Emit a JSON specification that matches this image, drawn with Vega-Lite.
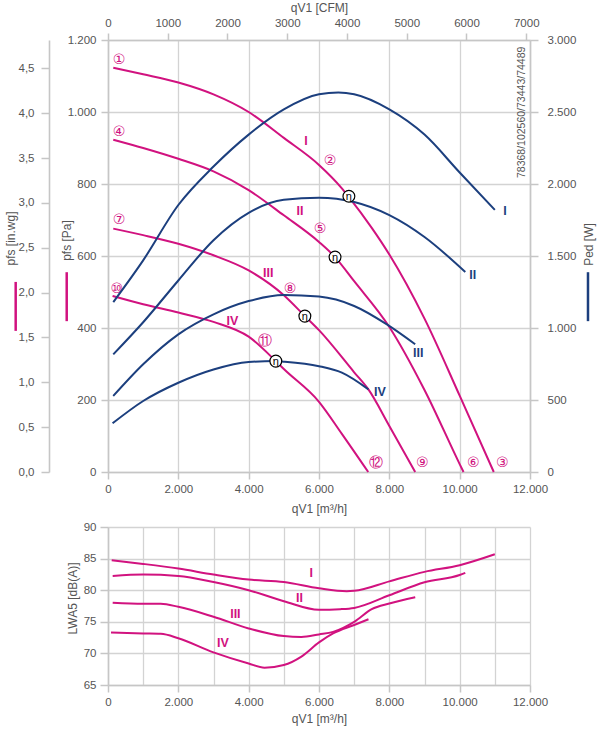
{
  "$schema": "https://vega.github.io/schema/vega-lite/v6.json",
  "background": "white",
  "padding": {"left": 4, "top": 1, "right": 5, "bottom": 5},
  "spacing": 7,
  "config": {
    "view": {"stroke": null},
    "font": "Liberation Sans",
    "text": {"font": "Liberation Sans"},
    "axis": {
      "labelFont": "Liberation Sans", "labelFontSize": 11.5, "labelColor": "#555555",
      "titleFont": "Liberation Sans", "titleFontSize": 12, "titleFontWeight": "normal", "titleColor": "#555555",
      "gridColor": "#d3d3d3", "gridWidth": 1.3,
      "domainColor": "#c6c6c6", "domainWidth": 1.6,
      "tickColor": "#c6c6c6", "tickWidth": 1.5
    }
  },
  "datasets": {
    "pressure": [
      {"c": "I", "x": 150, "p": 1123}, {"c": "I", "x": 1000, "p": 1105}, {"c": "I", "x": 2000, "p": 1082}, {"c": "I", "x": 3000, "p": 1049}, {"c": "I", "x": 4000, "p": 1000}, {"c": "I", "x": 5000, "p": 928}, {"c": "I", "x": 6000, "p": 853}, {"c": "I", "x": 6650, "p": 788}, {"c": "I", "x": 6840, "p": 765}, {"c": "I", "x": 7500, "p": 678}, {"c": "I", "x": 8000, "p": 604}, {"c": "I", "x": 9000, "p": 426}, {"c": "I", "x": 10000, "p": 212}, {"c": "I", "x": 10970, "p": 0},
      {"c": "II", "x": 150, "p": 923}, {"c": "II", "x": 1000, "p": 900}, {"c": "II", "x": 2000, "p": 870}, {"c": "II", "x": 3000, "p": 835}, {"c": "II", "x": 4000, "p": 783}, {"c": "II", "x": 5000, "p": 713}, {"c": "II", "x": 6000, "p": 639}, {"c": "II", "x": 6456, "p": 597}, {"c": "II", "x": 7000, "p": 530}, {"c": "II", "x": 8000, "p": 403}, {"c": "II", "x": 9000, "p": 228}, {"c": "II", "x": 10000, "p": 22}, {"c": "II", "x": 10110, "p": 0},
      {"c": "III", "x": 150, "p": 676}, {"c": "III", "x": 1000, "p": 658}, {"c": "III", "x": 2000, "p": 634}, {"c": "III", "x": 3000, "p": 602}, {"c": "III", "x": 4000, "p": 560}, {"c": "III", "x": 5000, "p": 491}, {"c": "III", "x": 5600, "p": 433}, {"c": "III", "x": 6000, "p": 394}, {"c": "III", "x": 7000, "p": 277}, {"c": "III", "x": 7400, "p": 230}, {"c": "III", "x": 8000, "p": 128}, {"c": "III", "x": 8735, "p": 0},
      {"c": "IV", "x": 130, "p": 489}, {"c": "IV", "x": 1000, "p": 466}, {"c": "IV", "x": 2000, "p": 443}, {"c": "IV", "x": 3000, "p": 417}, {"c": "IV", "x": 4000, "p": 376}, {"c": "IV", "x": 4772, "p": 308}, {"c": "IV", "x": 5000, "p": 286}, {"c": "IV", "x": 6000, "p": 195}, {"c": "IV", "x": 6650, "p": 106}, {"c": "IV", "x": 7400, "p": 0}
    ],
    "power": [
      {"c": "I", "x": 150, "w": 1180}, {"c": "I", "x": 1000, "w": 1470}, {"c": "I", "x": 2000, "w": 1854}, {"c": "I", "x": 3000, "w": 2121}, {"c": "I", "x": 4000, "w": 2343}, {"c": "I", "x": 5000, "w": 2518}, {"c": "I", "x": 6000, "w": 2623}, {"c": "I", "x": 6550, "w": 2635}, {"c": "I", "x": 7000, "w": 2623}, {"c": "I", "x": 8000, "w": 2518}, {"c": "I", "x": 9000, "w": 2343}, {"c": "I", "x": 10000, "w": 2080}, {"c": "I", "x": 11000, "w": 1820},
      {"c": "II", "x": 150, "w": 817}, {"c": "II", "x": 1000, "w": 1040}, {"c": "II", "x": 2000, "w": 1330}, {"c": "II", "x": 3000, "w": 1610}, {"c": "II", "x": 4000, "w": 1800}, {"c": "II", "x": 5000, "w": 1890}, {"c": "II", "x": 6000, "w": 1905}, {"c": "II", "x": 7000, "w": 1875}, {"c": "II", "x": 8000, "w": 1784}, {"c": "II", "x": 9000, "w": 1632}, {"c": "II", "x": 10160, "w": 1389},
      {"c": "III", "x": 150, "w": 528}, {"c": "III", "x": 1000, "w": 748}, {"c": "III", "x": 2000, "w": 956}, {"c": "III", "x": 3000, "w": 1095}, {"c": "III", "x": 4000, "w": 1187}, {"c": "III", "x": 5000, "w": 1229}, {"c": "III", "x": 6000, "w": 1218}, {"c": "III", "x": 7000, "w": 1153}, {"c": "III", "x": 7930, "w": 1025}, {"c": "III", "x": 8735, "w": 887},
      {"c": "IV", "x": 130, "w": 338}, {"c": "IV", "x": 1000, "w": 493}, {"c": "IV", "x": 2000, "w": 620}, {"c": "IV", "x": 3000, "w": 712}, {"c": "IV", "x": 4000, "w": 764}, {"c": "IV", "x": 4770, "w": 770}, {"c": "IV", "x": 5000, "w": 766}, {"c": "IV", "x": 6000, "w": 735}, {"c": "IV", "x": 6650, "w": 690}, {"c": "IV", "x": 7405, "w": 574}
    ],
    "noise": [
      {"c": "I", "x": 105, "db": 84.74}, {"c": "I", "x": 1000, "db": 84.16}, {"c": "I", "x": 2000, "db": 83.42}, {"c": "I", "x": 3000, "db": 82.47}, {"c": "I", "x": 4000, "db": 81.68}, {"c": "I", "x": 5000, "db": 81.3}, {"c": "I", "x": 6000, "db": 80.3}, {"c": "I", "x": 6790, "db": 79.84}, {"c": "I", "x": 7000, "db": 79.9}, {"c": "I", "x": 8000, "db": 81.4}, {"c": "I", "x": 9000, "db": 82.9}, {"c": "I", "x": 10000, "db": 83.95}, {"c": "I", "x": 11000, "db": 85.68},
      {"c": "II", "x": 133, "db": 82.26}, {"c": "II", "x": 1000, "db": 82.47}, {"c": "II", "x": 2000, "db": 82.26}, {"c": "II", "x": 3000, "db": 81.3}, {"c": "II", "x": 4000, "db": 80.0}, {"c": "II", "x": 5000, "db": 78.26}, {"c": "II", "x": 6000, "db": 76.9}, {"c": "II", "x": 6600, "db": 77.0}, {"c": "II", "x": 7000, "db": 77.2}, {"c": "II", "x": 8000, "db": 79.2}, {"c": "II", "x": 9000, "db": 81.25}, {"c": "II", "x": 10000, "db": 82.4}, {"c": "II", "x": 10160, "db": 82.74},
      {"c": "III", "x": 133, "db": 78.0}, {"c": "III", "x": 1000, "db": 77.84}, {"c": "III", "x": 1500, "db": 77.84}, {"c": "III", "x": 2000, "db": 77.37}, {"c": "III", "x": 3000, "db": 75.8}, {"c": "III", "x": 4000, "db": 73.95}, {"c": "III", "x": 5000, "db": 72.74}, {"c": "III", "x": 5500, "db": 72.6}, {"c": "III", "x": 6000, "db": 73.0}, {"c": "III", "x": 6400, "db": 73.4}, {"c": "III", "x": 7000, "db": 75.0}, {"c": "III", "x": 7500, "db": 77.0}, {"c": "III", "x": 8000, "db": 77.9}, {"c": "III", "x": 8737, "db": 78.9},
      {"c": "IV", "x": 86, "db": 73.3}, {"c": "IV", "x": 1000, "db": 73.16}, {"c": "IV", "x": 1500, "db": 73.1}, {"c": "IV", "x": 2000, "db": 72.4}, {"c": "IV", "x": 3000, "db": 70.16}, {"c": "IV", "x": 4000, "db": 68.4}, {"c": "IV", "x": 4450, "db": 67.74}, {"c": "IV", "x": 5000, "db": 68.16}, {"c": "IV", "x": 5500, "db": 69.5}, {"c": "IV", "x": 6000, "db": 71.74}, {"c": "IV", "x": 6400, "db": 73.16}, {"c": "IV", "x": 7000, "db": 74.5}, {"c": "IV", "x": 7407, "db": 75.4}
    ],
    "plabels": [
      {"t": "①", "x": 313, "p": 1144}, {"t": "②", "x": 6313, "p": 865}, {"t": "③", "x": 11213, "p": 26},
      {"t": "④", "x": 313, "p": 944}, {"t": "⑤", "x": 6029, "p": 675}, {"t": "⑥", "x": 10390, "p": 26},
      {"t": "⑦", "x": 313, "p": 700}, {"t": "⑧", "x": 5175, "p": 508}, {"t": "⑨", "x": 8938, "p": 26},
      {"t": "⑩", "x": 247, "p": 509}, {"t": "⑪", "x": 4465, "p": 364}, {"t": "⑫", "x": 7621, "p": 26}
    ],
    "proman": [
      {"t": "I", "x": 5630, "p": 920}, {"t": "II", "x": 5460, "p": 726}, {"t": "III", "x": 4559, "p": 554}, {"t": "IV", "x": 3536, "p": 419}
    ],
    "wlabels": [
      {"t": "I", "x": 11289, "w": 1815}, {"t": "II", "x": 10370, "w": 1366}, {"t": "III", "x": 8824, "w": 824}, {"t": "IV", "x": 7735, "w": 556}
    ],
    "eta": [
      {"x": 6850, "p": 766}, {"x": 6456, "p": 597}, {"x": 5598, "p": 433}, {"x": 4772, "p": 308}
    ],
    "nlabels": [
      {"c": "I", "t": "I", "x": 5779, "db": 82.8}, {"c": "II", "t": "II", "x": 5447, "db": 78.7}, {"c": "III", "t": "III", "x": 3622, "db": 76.2}, {"c": "IV", "t": "IV", "x": 3270, "db": 71.6}
    ],
    "idtext": [
      {"t": "78368/102560/73443/74489", "x": 11772, "p": 999}
    ],
    "inwg": [{"v": 0}, {"v": 4.8176}],
    "cfm": [{"v": 0}, {"v": 7062.9}]
  },
  "vconcat": [
    {
      "width": 422,
      "height": 432,
      "layer": [
        {
          "layer": [
            {
              "data": {"name": "pressure"},
              "mark": {"type": "line", "color": "#d1127f", "strokeWidth": 2, "interpolate": "monotone"},
              "encoding": {
                "x": {"field": "x", "type": "quantitative", "scale": {"domain": [0, 12000], "nice": false},
                  "axis": {"orient": "bottom", "values": [0, 1000, 2000, 3000, 4000, 5000, 6000, 7000, 8000, 9000, 10000, 11000, 12000],
                    "labelExpr": "datum.value % 2000 === 0 ? replace(format(datum.value, ','), ',', '.') : ''",
                    "tickOpacity": {"condition": {"test": "datum.value % 2000 === 0", "value": 1}, "value": 0},
                    "grid": true, "tickSize": 7, "labelPadding": 4, "labelFlush": false, "labelOverlap": false,
                    "title": "qV1 [m³/h]", "titleY": 36, "titleBaseline": "middle"}},
                "y": {"field": "p", "type": "quantitative", "scale": {"domain": [0, 1200], "nice": false},
                  "axis": {"orient": "left", "values": [0, 100, 200, 300, 400, 500, 600, 700, 800, 900, 1000, 1100, 1200],
                    "labelExpr": "datum.value % 200 === 0 ? replace(format(datum.value, ','), ',', '.') : ''",
                    "tickOpacity": {"condition": {"test": "datum.value % 200 === 0", "value": 1}, "value": 0},
                    "grid": true, "tickSize": 7, "labelPadding": 5, "labelFlush": false, "labelOverlap": false,
                    "title": "pfs [Pa]", "titleAngle": 270, "titleX": -42, "titleY": 200, "titleBaseline": "middle", "titleAlign": "center"}},
                "detail": {"field": "c"}
              }
            },
            {
              "data": {"name": "plabels"},
              "mark": {"type": "text", "color": "#d1127f", "fontSize": 14, "font": "DejaVu Sans", "baseline": "middle", "align": "center"},
              "encoding": {"x": {"field": "x", "type": "quantitative"}, "y": {"field": "p", "type": "quantitative"}, "text": {"field": "t"}}
            },
            {
              "data": {"name": "proman"},
              "mark": {"type": "text", "color": "#d1127f", "fontSize": 12.5, "fontWeight": "bold", "baseline": "middle", "align": "center"},
              "encoding": {"x": {"field": "x", "type": "quantitative"}, "y": {"field": "p", "type": "quantitative"}, "text": {"field": "t"}}
            },
            {
              "data": {"name": "idtext"},
              "mark": {"type": "text", "color": "#555555", "fontSize": 10.5, "angle": 270, "baseline": "middle", "align": "center"},
              "encoding": {"x": {"field": "x", "type": "quantitative"}, "y": {"field": "p", "type": "quantitative"}, "text": {"field": "t"}}
            },
            {
              "data": {"values": [{}]},
              "mark": {"type": "rule", "color": "#d1127f", "strokeWidth": 2.5},
              "encoding": {"x": {"datum": -1174, "type": "quantitative"}, "y": {"datum": 419, "type": "quantitative"}, "y2": {"datum": 555}}
            },
            {
              "data": {"values": [{}]},
              "mark": {"type": "rule", "color": "#d1127f", "strokeWidth": 2.5},
              "encoding": {"x": {"datum": -2625, "type": "quantitative"}, "y": {"datum": 392, "type": "quantitative"}, "y2": {"datum": 528}}
            },
            {
              "data": {"values": [{}]},
              "mark": {"type": "rule", "color": "#1c3f7e", "strokeWidth": 2.5},
              "encoding": {"x": {"datum": 13649, "type": "quantitative"}, "y": {"datum": 419, "type": "quantitative"}, "y2": {"datum": 555}}
            }
          ]
        },
        {
          "layer": [
            {
              "data": {"name": "power"},
              "mark": {"type": "line", "color": "#1c3f7e", "strokeWidth": 2, "interpolate": "monotone"},
              "encoding": {
                "x": {"field": "x", "type": "quantitative", "scale": {"domain": [0, 12000], "nice": false}, "axis": null},
                "y": {"field": "w", "type": "quantitative", "scale": {"domain": [0, 3000], "nice": false},
                  "axis": {"orient": "right", "values": [0, 500, 1000, 1500, 2000, 2500, 3000],
                    "labelExpr": "replace(format(datum.value, ','), ',', '.')",
                    "grid": false, "tickSize": 8, "labelPadding": 9, "labelFlush": false, "labelOverlap": false,
                    "title": "Ped [W]", "titleAngle": 270, "titleX": 58, "titleY": 204, "titleBaseline": "middle", "titleAlign": "center"}},
                "detail": {"field": "c"}
              }
            },
            {
              "data": {"name": "wlabels"},
              "mark": {"type": "text", "color": "#1c3f7e", "fontSize": 12.5, "fontWeight": "bold", "baseline": "middle", "align": "center"},
              "encoding": {"x": {"field": "x", "type": "quantitative"}, "y": {"field": "w", "type": "quantitative"}, "text": {"field": "t"}}
            }
          ]
        },
        {
          "layer": [
            {
              "data": {"name": "eta"},
              "mark": {"type": "point", "shape": "circle", "filled": true, "fill": "white", "stroke": "black", "strokeWidth": 1.2, "size": 140, "opacity": 1},
              "encoding": {
                "x": {"field": "x", "type": "quantitative", "scale": {"domain": [0, 12000], "nice": false}, "axis": null},
                "y": {"field": "p", "type": "quantitative", "scale": {"domain": [0, 1200], "nice": false}, "axis": null}
              }
            },
            {
              "data": {"name": "eta"},
              "mark": {"type": "text", "text": "η", "fontSize": 11, "color": "black", "baseline": "middle", "align": "center", "dy": 1},
              "encoding": {"x": {"field": "x", "type": "quantitative"}, "y": {"field": "p", "type": "quantitative"}}
            }
          ]
        },
        {
          "data": {"name": "inwg"},
          "mark": {"type": "point", "opacity": 0},
          "encoding": {
            "y": {"field": "v", "type": "quantitative", "scale": {"domain": [0, 4.8176], "nice": false},
              "axis": {"orient": "left", "offset": 59, "values": [0, 0.5, 1, 1.5, 2, 2.5, 3, 3.5, 4, 4.5],
                "labelExpr": "replace(format(datum.value, '.1f'), '.', ',')",
                "grid": false, "tickSize": 8, "labelPadding": 7, "labelFlush": false, "labelOverlap": false,
                "title": "pfs [in.wg]", "titleAngle": 270, "titleX": -39, "titleY": 198, "titleBaseline": "middle", "titleAlign": "center"}}
          }
        },
        {
          "data": {"name": "cfm"},
          "mark": {"type": "point", "opacity": 0},
          "encoding": {
            "x": {"field": "v", "type": "quantitative", "scale": {"domain": [0, 7062.9], "nice": false},
              "axis": {"orient": "top", "values": [0, 1000, 2000, 3000, 4000, 5000, 6000, 7000], "format": "d",
                "grid": false, "tickSize": 7, "labelPadding": 5, "labelFlush": false, "labelOverlap": false,
                "title": "qV1 [CFM]", "titleY": -33, "titleBaseline": "middle"}}
          }
        }
      ],
      "resolve": {"scale": {"x": "independent", "y": "independent"}}
    },
    {
      "width": 422,
      "height": 158,
      "encoding": {
        "x": {"field": "x", "type": "quantitative", "scale": {"domain": [0, 12000], "nice": false},
          "axis": {"orient": "bottom", "values": [0, 1000, 2000, 3000, 4000, 5000, 6000, 7000, 8000, 9000, 10000, 11000, 12000],
            "labelExpr": "datum.value % 2000 === 0 ? replace(format(datum.value, ','), ',', '.') : ''",
            "tickOpacity": {"condition": {"test": "datum.value % 2000 === 0", "value": 1}, "value": 0},
            "grid": true, "tickSize": 7, "labelPadding": 4, "labelFlush": false, "labelOverlap": false,
            "title": "qV1 [m³/h]", "titleY": 33, "titleBaseline": "middle"}},
        "y": {"field": "db", "type": "quantitative", "scale": {"domain": [65, 90], "nice": false},
          "axis": {"orient": "left", "values": [65, 70, 75, 80, 85, 90],
            "grid": true, "tickSize": 8, "labelPadding": 4, "labelFlush": false, "labelOverlap": false,
            "title": "LWA5 [dB(A)]", "titleAngle": 270, "titleX": -36, "titleY": 71, "titleBaseline": "middle", "titleAlign": "center"}}
      },
      "layer": [
        {
          "data": {"name": "noise"},
          "mark": {"type": "line", "color": "#d1127f", "strokeWidth": 2, "interpolate": "monotone"},
          "encoding": {"detail": {"field": "c"}}
        },
        {
          "data": {"name": "nlabels"},
          "mark": {"type": "text", "color": "#d1127f", "fontSize": 12.5, "fontWeight": "bold", "baseline": "middle", "align": "center"},
          "encoding": {"text": {"field": "t"}}
        }
      ]
    }
  ]
}
